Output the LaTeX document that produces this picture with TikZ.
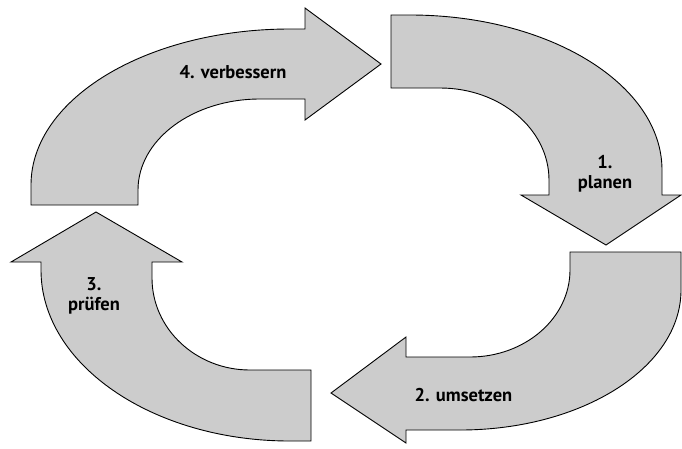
\documentclass[tikz,border=0pt]{standalone}
\usepackage{fontspec}
\setmainfont{PT Sans}
\begin{document}
\begin{tikzpicture}[x=1pt,y=-1pt,
  cyclearrow/.style={fill=black!20,draw=black,line width=0.9pt,line join=miter},
  steplabel/.style={font=\bfseries\fontsize{18.5}{20}\selectfont,align=center,inner sep=0pt}]
\useasboundingbox (0,0) rectangle (682,448);

% 4. verbessern (left side, bending up and to the right)
\path[cyclearrow] (31,205) -- (31,185)
  .. controls (31,98.8) and (146.9,29) .. (290,29)
  -- (305,29) -- (305,8) -- (381,64) -- (305,120) -- (305,99) -- (260,99)
  .. controls (192.6,99) and (138,139.7) .. (138,190)
  -- (138,205) -- cycle;

% 1. planen (top right, bending down)
\path[cyclearrow] (391,15) -- (410,15)
  .. controls (549.2,15) and (662,84.4) .. (662,170)
  -- (662,195) -- (681,195) -- (606,245) -- (521,195) -- (549,195) -- (549,180)
  .. controls (549,129.2) and (500.2,88) .. (440,88)
  -- (391,88) -- cycle;

% 2. umsetzen (bottom right, bending left)
\path[cyclearrow] (570,252) -- (681,252) -- (681,290)
  .. controls (681,367.3) and (582.1,430) .. (460,430)
  -- (406,430) -- (406,443) -- (331,393) -- (406,337) -- (406,357) -- (470,357)
  .. controls (525.2,357) and (570,318) .. (570,270)
  -- cycle;

% 3. pruefen (bottom left, bending up)
\path[cyclearrow] (311,441) -- (311,370) -- (250,370)
  .. controls (195.9,370) and (152,328.8) .. (152,278)
  -- (152,262) -- (182,262) -- (96,212) -- (11,262) -- (41,262) -- (41,270)
  .. controls (41,364.4) and (152.5,441) .. (290,441)
  -- cycle;

\node[steplabel] (verbessern) at (233,72) {4. verbessern};
\node[steplabel] (planen) at (605,174) {1.\\planen};
\node[steplabel] (umsetzen) at (463.5,395) {2. umsetzen};
\node[steplabel] (pruefen) at (94,296) {3.\\prüfen};
\end{tikzpicture}
\end{document}
